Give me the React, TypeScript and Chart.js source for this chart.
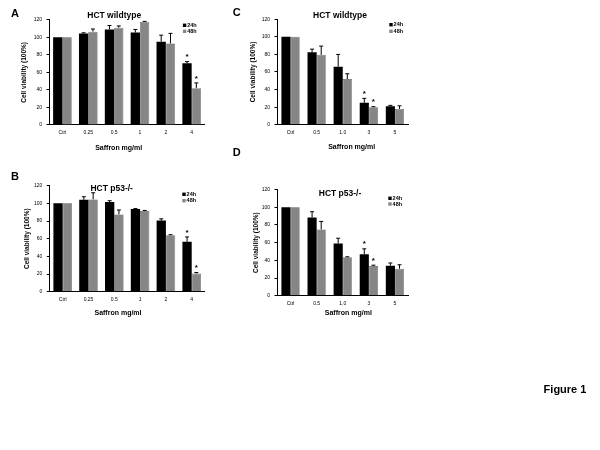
import React, { useEffect, useRef } from "react";
import { Chart, registerables } from "chart.js";
Chart.register(...registerables);

// ---------- DATA ----------
const catsAB = ["Ctrl", "0.25", "0.5", "1", "2", "4"];
const catsCD = ["Ctrl", "0.5", "1.0", "3", "5"];
const seriesNames = ["24h", "48h"];

const aMean24 = [100, 104.5, 109, 105.5, 95, 70.3];
const aErr24 = [0, 0.7, 4.5, 3.5, 7.5, 2];
const aMean48 = [100, 106.5, 111, 117.5, 93, 42];
const aErr48 = [0, 3, 2, 0.7, 11.5, 6];
const aStar24 = [false, false, false, false, false, true];
const aStar48 = [false, false, false, false, false, true];

const bMean24 = [100, 104, 101.5, 93.6, 80.5, 56.5];
const bErr24 = [0, 3.5, 1.5, 0.5, 2, 5.5];
const bMean48 = [100, 104.5, 87.5, 91.3, 64, 20.5];
const bErr48 = [0, 7.5, 5, 0.7, 0.5, 1.2];
const bStar24 = [false, false, false, false, false, true];
const bStar48 = [false, false, false, false, false, true];

const cMean24 = [100, 82.5, 66, 25, 21];
const cErr24 = [0, 3.5, 14, 5, 1];
const cMean48 = [100, 79.5, 52, 20, 18];
const cErr48 = [0, 10, 6, 0.5, 3.5];
const cStar24 = [false, false, false, true, false];
const cStar48 = [false, false, false, true, false];

const dMean24 = [100, 88.5, 59, 47, 34];
const dErr24 = [0, 6.5, 6, 6, 3];
const dMean48 = [100, 75, 43.5, 33.5, 30.5];
const dErr48 = [0, 9, 0.5, 1, 4.5];
const dStar24 = [false, false, false, true, false];
const dStar48 = [false, false, false, true, false];

const yMin = 0;
const yMax = 120;
const yStep = 20;

// ---------- STYLE / LAYOUT ----------
const FONT = '"Liberation Sans", Arial, sans-serif';
const COLORS = ["#000000", "#868686"];
const W = 600;
const H = 450;
const Y_AXIS_W = 30;
const X_AXIS_H = 20;

type Panel = {
  letter: string;
  title: string;
  cats: string[];
  means: number[][];
  errs: number[][];
  stars: boolean[][];
  area: { l: number; r: number; t: number; b: number };
  letterPos: [number, number];
  titlePos: [number, number];
  yTitleX: number;
  xTitlePos: [number, number];
  legend: { x: number; y1: number; y2: number };
  catPct: number;
  figLabel?: boolean;
};

const panels: Panel[] = [
  {
    letter: "A",
    title: "HCT wildtype",
    cats: catsAB,
    means: [aMean24, aMean48],
    errs: [aErr24, aErr48],
    stars: [aStar24, aStar48],
    area: { l: 49.5, r: 204.6, t: 19.8, b: 125 },
    letterPos: [15, 13.5],
    titlePos: [114.2, 16],
    yTitleX: 24.5,
    xTitlePos: [118.7, 147.7],
    legend: { x: 184.6, y1: 25.3, y2: 31.3 },
    catPct: 0.72,
    figLabel: true,
  },
  {
    letter: "B",
    title: "HCT p53-/-",
    cats: catsAB,
    means: [bMean24, bMean48],
    errs: [bErr24, bErr48],
    stars: [bStar24, bStar48],
    area: { l: 49.8, r: 204.6, t: 185.7, b: 291.7 },
    letterPos: [15, 177],
    titlePos: [111.7, 188.3],
    yTitleX: 27,
    xTitlePos: [118, 313.3],
    legend: { x: 184, y1: 194.3, y2: 200.7 },
    catPct: 0.72,
  },
  {
    letter: "C",
    title: "HCT wildtype",
    cats: catsCD,
    means: [cMean24, cMean48],
    errs: [cErr24, cErr48],
    stars: [cStar24, cStar48],
    area: { l: 277.5, r: 408, t: 19.3, b: 124.7 },
    letterPos: [236.7, 13.3],
    titlePos: [340, 16],
    yTitleX: 253.3,
    xTitlePos: [351.7, 146.7],
    legend: { x: 391, y1: 24.7, y2: 31.3 },
    catPct: 0.7,
  },
  {
    letter: "D",
    title: "HCT p53-/-",
    cats: catsCD,
    means: [dMean24, dMean48],
    errs: [dErr24, dErr48],
    stars: [dStar24, dStar48],
    area: { l: 277.5, r: 408, t: 189.6, b: 295.7 },
    letterPos: [236.7, 153.3],
    titlePos: [340, 193.3],
    yTitleX: 256,
    xTitlePos: [348.3, 313.3],
    legend: { x: 390, y1: 198.3, y2: 204 },
    catPct: 0.7,
  },
];

const overlay = {
  id: "overlay",
  afterDatasetsDraw(chart: any, _args: any, opts: any) {
    const p: Panel = opts.panel;
    const ctx: CanvasRenderingContext2D = chart.ctx;
    const ys = chart.scales.y;
    ctx.save();
    // error bars and significance stars
    for (let di = 0; di < 2; di++) {
      const meta = chart.getDatasetMeta(di);
      meta.data.forEach((bar: any, i: number) => {
        const m = p.means[di][i];
        const e = p.errs[di][i];
        const top = ys.getPixelForValue(m + e);
        const x = bar.x;
        if (e > 0) {
          ctx.strokeStyle = "#000";
          ctx.lineWidth = 1;
          ctx.beginPath();
          ctx.moveTo(x, bar.y);
          ctx.lineTo(x, top);
          ctx.moveTo(x - 2, top);
          ctx.lineTo(x + 2, top);
          ctx.stroke();
        }
        if (p.stars[di][i]) {
          ctx.fillStyle = "#000";
          ctx.font = `bold 8px ${FONT}`;
          ctx.textAlign = "center";
          ctx.textBaseline = "alphabetic";
          ctx.fillText("*", x, top - 7 + 4.6);
        }
      });
    }
    // panel letter
    ctx.fillStyle = "#000";
    ctx.textAlign = "center";
    ctx.textBaseline = "middle";
    ctx.font = `bold 11px ${FONT}`;
    ctx.fillText(p.letter, p.letterPos[0], p.letterPos[1]);
    // title
    ctx.font = `bold 8.5px ${FONT}`;
    ctx.fillText(p.title, p.titlePos[0], p.titlePos[1]);
    // x title
    ctx.font = `bold 7px ${FONT}`;
    ctx.fillText("Saffron mg/ml", p.xTitlePos[0], p.xTitlePos[1]);
    // y title
    ctx.save();
    ctx.translate(p.yTitleX, (p.area.t + p.area.b) / 2);
    ctx.rotate(-Math.PI / 2);
    ctx.font = `bold 6.5px ${FONT}`;
    ctx.fillText("Cell viability (100%)", 0, 0);
    ctx.restore();
    // legend
    const ly = [p.legend.y1, p.legend.y2];
    for (let k = 0; k < 2; k++) {
      ctx.fillStyle = COLORS[k];
      ctx.fillRect(p.legend.x - 1.7, ly[k] - 1.7, 3.4, 3.4);
      ctx.fillStyle = "#000";
      ctx.textAlign = "left";
      ctx.font = `bold 5.5px ${FONT}`;
      ctx.fillText(seriesNames[k], p.legend.x + 2.6, ly[k]);
    }
    if (p.figLabel) {
      ctx.textAlign = "center";
      ctx.font = `bold 11px ${FONT}`;
      ctx.fillText("Figure 1", 565, 390);
    }
    ctx.restore();
  },
};

function PanelChart({ p }: { p: Panel }) {
  const ref = useRef<HTMLCanvasElement | null>(null);
  useEffect(() => {
    if (!ref.current) return;
    const chart = new Chart(ref.current, {
      type: "bar",
      data: {
        labels: p.cats,
        datasets: [0, 1].map((k) => ({
          label: seriesNames[k],
          data: p.means[k],
          backgroundColor: COLORS[k],
          borderColor: k === 0 ? "#000" : "#5a5a5a",
          borderWidth: k === 0 ? 0 : 0.6,
          categoryPercentage: p.catPct,
          barPercentage: 1.0,
        })),
      },
      options: {
        responsive: false,
        animation: false,
        devicePixelRatio: 1,
        layout: {
          padding: {
            left: p.area.l - Y_AXIS_W,
            right: W - p.area.r,
            top: p.area.t,
            bottom: H - p.area.b - X_AXIS_H,
          },
        },
        plugins: {
          legend: { display: false },
          title: { display: false },
          tooltip: { enabled: false },
          overlay: { panel: p },
        } as any,
        scales: {
          x: {
            type: "category",
            afterFit: (s: any) => {
              s.height = X_AXIS_H;
            },
            grid: { display: false, drawTicks: false },
            border: { display: true, color: "#000", width: 1 },
            ticks: {
              font: { family: FONT, size: 5 },
              color: "#000",
              padding: 4.5,
              maxRotation: 0,
              autoSkip: false,
            },
          },
          y: {
            min: yMin,
            max: yMax,
            afterFit: (s: any) => {
              s.width = Y_AXIS_W;
            },
            grid: {
              display: true,
              drawOnChartArea: false,
              drawTicks: true,
              tickLength: 3,
              color: "#000",
            },
            border: { display: true, color: "#000", width: 1 },
            ticks: {
              stepSize: yStep,
              font: { family: FONT, size: 5 },
              color: "#000",
              padding: 4.5,
            },
          },
        },
      },
      plugins: [overlay],
    });
    return () => chart.destroy();
  }, [p]);
  return (
    <canvas
      ref={ref}
      width={W}
      height={H}
      style={{ position: "absolute", left: 0, top: 0, width: W, height: H }}
    />
  );
}

export default function App() {
  return (
    <div
      style={{
        position: "absolute",
        left: 0,
        top: 0,
        width: W,
        height: H,
        background: "#fff",
        overflow: "hidden",
      }}
    >
      {panels.map((p) => (
        <PanelChart key={p.letter} p={p} />
      ))}
    </div>
  );
}
